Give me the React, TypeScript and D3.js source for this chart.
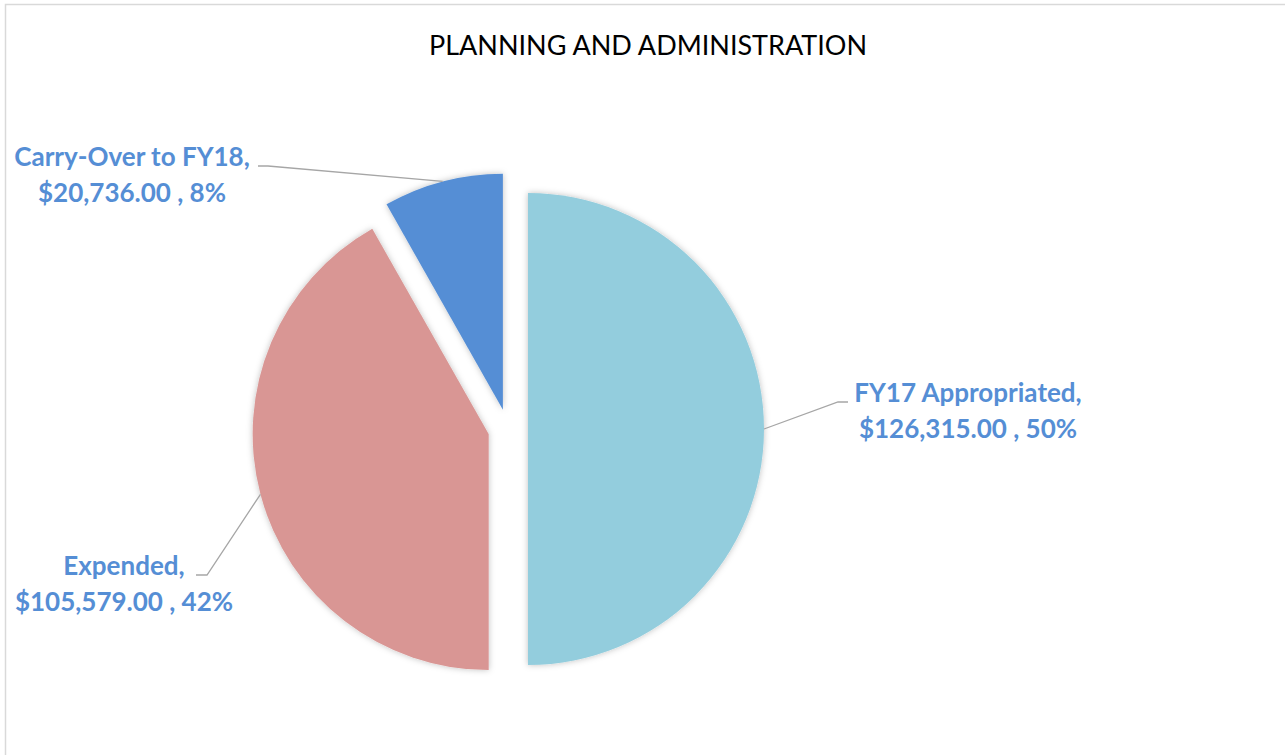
import React from 'react';
import * as d3 from 'd3';

// chart data
const categories = ['FY17 Appropriated', 'Expended', 'Carry-Over to FY18'];
const amounts = [126315, 105579, 20736];
const sliceColors = ['#93CDDD', '#D99694', '#558ED5'];

const width = 1285;
const height = 755;
const cx = 508;
const cy = 429;
const radius = 236;
const explode = 20;

// label anchor (center x, first baseline y) and leader elbow per slice
const labelLayout = [
  { x: 968, y: 402, elbow: [838, 402], end: [848, 402] },
  { x: 124, y: 575, elbow: [207, 575], end: [196, 575] },
  { x: 132, y: 166, elbow: [268, 166], end: [258, 166] },
];

const fmt = d3.format(',.2f');

const App: React.FC = () => {
  const total = d3.sum(amounts);
  const pie = d3
    .pie<number>()
    .sort(null)
    .value(d => d)
    .startAngle(0)
    .endAngle(2 * Math.PI);
  const arcs = pie(amounts);
  const arc = d3.arc<d3.PieArcDatum<number>>().innerRadius(0).outerRadius(radius);

  const fontFamily = 'Lato, "Open Sans", sans-serif';

  return (
    <div style={{ position: 'absolute', left: 0, top: 0 }}>
      <svg width={width} height={height} style={{ display: 'block', background: '#fff' }}>
        <defs>
          <filter id="shadow" x="-20%" y="-20%" width="140%" height="140%">
            <feDropShadow dx="0" dy="0" stdDeviation="3" floodColor="#000" floodOpacity="0.25" />
          </filter>
        </defs>
        <rect x={5.5} y={4.5} width={width + 20} height={height + 20} fill="#fff" stroke="#d9d9d9" strokeWidth={1.5} />
        <text
          x={648}
          y={55}
          textAnchor="middle"
          fontFamily={fontFamily}
          fontSize={27}
          fill="#000"
        >
          PLANNING AND ADMINISTRATION
        </text>
        {arcs.map((a, i) => {
          const mid = (a.startAngle + a.endAngle) / 2;
          const ox = cx + explode * Math.sin(mid);
          const oy = cy - explode * Math.cos(mid);
          return (
            <path
              key={categories[i]}
              d={arc(a) ?? ''}
              transform={`translate(${ox},${oy})`}
              fill={sliceColors[i]}
              filter="url(#shadow)"
            />
          );
        })}
        {arcs.map((a, i) => {
          const mid = (a.startAngle + a.endAngle) / 2;
          const ox = cx + explode * Math.sin(mid);
          const oy = cy - explode * Math.cos(mid);
          const px = ox + radius * Math.sin(mid);
          const py = oy - radius * Math.cos(mid);
          const lay = labelLayout[i];
          const pct = Math.round((amounts[i] / total) * 100);
          return (
            <g key={`lbl-${i}`}>
              <polyline
                points={`${px},${py} ${lay.elbow[0]},${lay.elbow[1]} ${lay.end[0]},${lay.end[1]}`}
                fill="none"
                stroke="#a6a6a6"
                strokeWidth={1.3}
              />
              <text
                x={lay.x}
                y={lay.y}
                textAnchor="middle"
                fontFamily={fontFamily}
                fontWeight="bold"
                fontSize={26}
                fill="#558ED5"
              >
                <tspan x={lay.x}>{categories[i]},</tspan>
                <tspan x={lay.x} dy={36}>{`$${fmt(amounts[i])} , ${pct}%`}</tspan>
              </text>
            </g>
          );
        })}
      </svg>
    </div>
  );
};

export default App;
